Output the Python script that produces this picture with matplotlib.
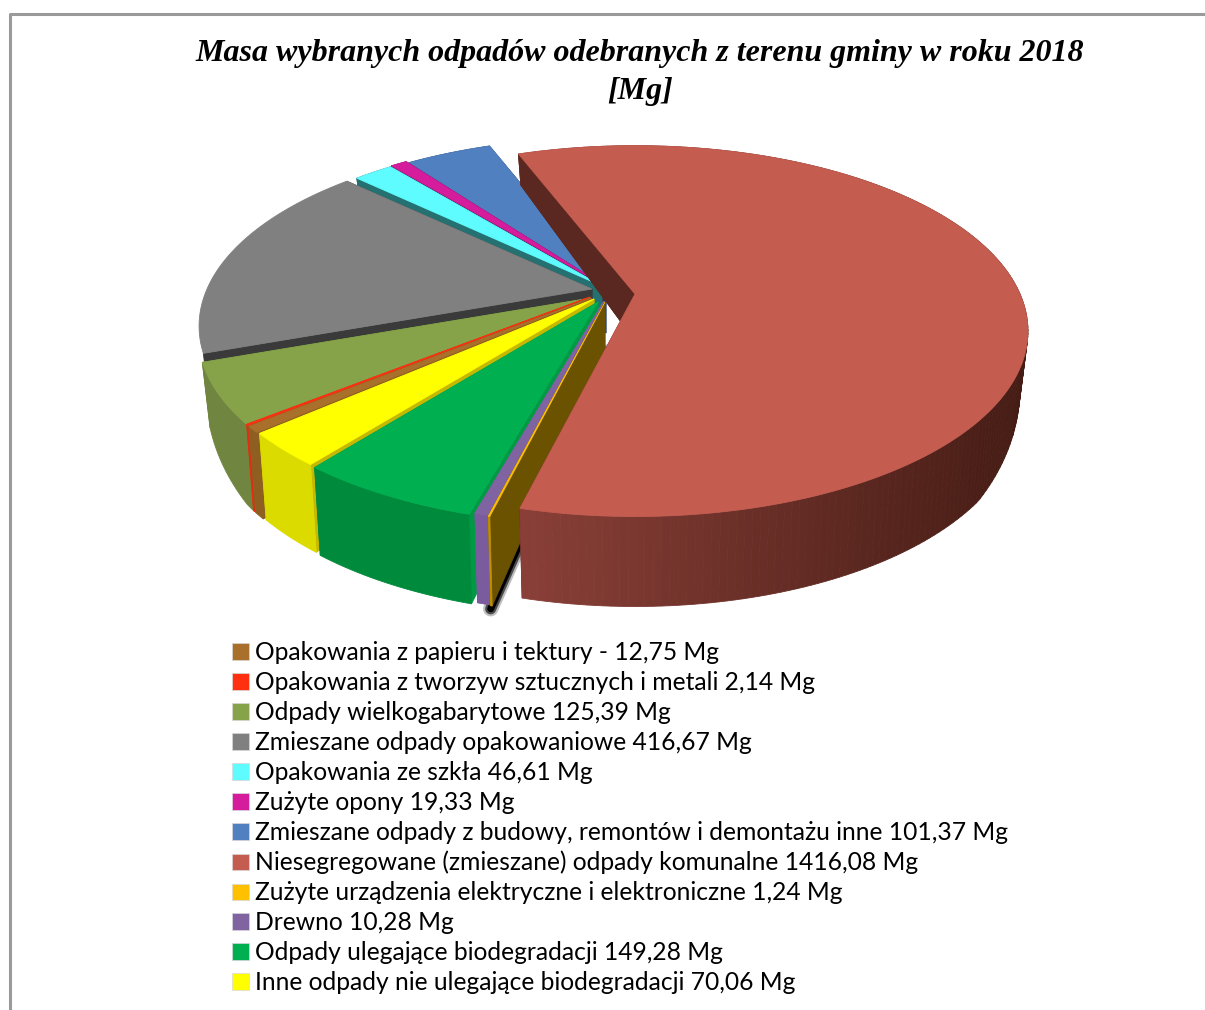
import numpy as np
import matplotlib
matplotlib.use("Agg")
import matplotlib.pyplot as plt
from matplotlib.patches import Polygon, Patch
from matplotlib.lines import Line2D

# dane z legendy, kolejnosc zgodnie z ruchem wskazowek zegara
names = ["Opakowania z papieru i tektury -", "Opakowania z tworzyw sztucznych i metali",
         "Odpady wielkogabarytowe", "Zmieszane odpady opakowaniowe", "Opakowania ze szkła",
         "Zużyte opony", "Zmieszane odpady z budowy, remontów i demontażu inne",
         "Niesegregowane (zmieszane) odpady komunalne",
         "Zużyte urządzenia elektryczne i elektroniczne", "Drewno",
         "Odpady ulegające biodegradacji", "Inne odpady nie ulegające biodegradacji"]
values = [12.75, 2.14, 125.39, 416.67, 46.61, 19.33, 101.37, 1416.08, 1.24, 10.28, 149.28, 70.06]
value_labels = ["12,75", "2,14", "125,39", "416,67", "46,61", "19,33", "101,37", "1416,08",
                "1,24", "10,28", "149,28", "70,06"]

top_colors = ["#a8702a", "#ff3010", "#86a34a", "#808080", "#5ffcff", "#d41c9c",
              "#5080c0", "#c45c50", "#ffc000", "#8064a2", "#00b050", "#ffff00"]
rim_colors = ["#8f5f22", "#e03010", "#70853f", "#555555", "#257070", "#701050",
              "#24406e", "#8a4038", "#c09000", "#7a5c9e", "#008a3c", "#dbdb00"]
cut_colors = ["#8f5f22", "#c83c10", "#5f7a30", "#3a3a3a", "#257070", "#501048",
              "#24406e", "#5a2820", "#6b5200", "#7a5c9e", "#009a45", "#c4b800"]
# wysuniecie wycinkow w pikselach
explode = [(-9, -2), (-10, -3), (-9, -2), (-8, -11), (2, -14), (3, -15),
           (6, -14), (35, -6), (5, 2), (4, 1), (-2, 2), (-6, -1)]
draw_order = [6, 5, 4, 3, 2, 1, 0, 11, 10, 9, 8, 7]

W, H = 1205, 1010
CX, CY = 600, 300
A, B = 385, 178
K = 0.2
START = 221.0


def project(u, v, off):
    s = 1 / (1 + K * v)
    x = CX + off[0] + A * u * s
    y = CY + off[1] - B * v * s
    # grubosc w pikselach zalezy od glebokosci
    drop = np.interp(v, [-1, -0.6, -0.2, 0, 1], [90, 86, 55, 47, 30])
    xb = CX + off[0] + A * u * s * 0.98
    return x, y, xb, y + drop


def rim(a0, a1, off):
    t = np.radians(np.linspace(a0, a1, max(int(abs(a1 - a0)), 4)))
    return project(np.cos(t), np.sin(t), off)


fig = plt.figure(figsize=(W / 100, H / 100), dpi=100)
ax = fig.add_axes([0, 0, 1, 1])
ax.set_xlim(0, W)
ax.set_ylim(H, 0)
ax.axis("off")

# ramka
ax.add_line(Line2D([10, 10, W], [H, 14, 14], color="#9a9a9a", lw=2.2))

deg = np.array(values) / sum(values) * 360
ends = START - np.cumsum(deg)
starts = ends + deg


def quad(xs, ys, color):
    ax.add_patch(Polygon(np.column_stack([xs, ys]), closed=True, facecolor=color,
                         edgecolor=color, lw=0.6))


for i in draw_order:
    off = explode[i]
    xa, ya, xab, ab = project(0, 0, off)
    xr, yr, xb, br = rim(starts[i], ends[i], off)
    if i == 8:
        # cien pod brazowa sciana
        for lw, al in [(11, 0.25), (8, 0.6), (5, 1)]:
            ax.add_line(Line2D([xb[-1], xab], [br[-1] + 3, ab + 3], color="black", lw=lw,
                               alpha=al, solid_capstyle="round", zorder=0.5))
    # sciany ciecia
    quad([xa, xr[0], xb[0], xab], [ya, yr[0], br[0], ab], cut_colors[i])
    quad([xa, xr[-1], xb[-1], xab], [ya, yr[-1], br[-1], ab], cut_colors[i])
    # sciana zewnetrzna
    if i == 7:
        # cieniowanie duzego wycinka
        for j in range(len(xr) - 1):
            f = np.clip((xr[j] - 520) / 510, 0, 1)
            color = np.array([0.54, 0.25, 0.22]) * (1 - f) + np.array([0.27, 0.11, 0.08]) * f
            quad([xr[j], xr[j + 1], xb[j + 1], xb[j]], [yr[j], yr[j + 1], br[j + 1], br[j]], color)
        quad([xa, xr[0], xb[0], xab], [ya, yr[0], br[0], ab], cut_colors[i])
    elif i != 3:
        quad(np.r_[xr, xb[::-1]], np.r_[yr, br[::-1]], rim_colors[i])
    quad(np.r_[xa, xr], np.r_[ya, yr], top_colors[i])

ax.text(640, 54, "Masa wybranych odpadów odebranych z terenu gminy w roku 2018", ha="center",
        va="center", family="Liberation Serif", weight="bold", style="italic", fontsize=23)
ax.text(640, 91, "[Mg]", ha="center", va="center", family="Liberation Serif", weight="bold",
        style="italic", fontsize=23)

handles = [Patch(facecolor=c, edgecolor="#d8d8d8", lw=0.5) for c in top_colors]
labels = [n + " " + v + " Mg" for n, v in zip(names, value_labels)]
fig.legend(handles, labels, loc="upper left", bbox_to_anchor=(225 / W, 1 - 634 / H), frameon=False,
           prop={"family": "Lato", "size": 17.7}, handlelength=0.66, handleheight=0.66,
           handletextpad=0.26, labelspacing=0.282, borderpad=0.3, borderaxespad=0, labelcolor="black")

fig.savefig("out.png", dpi=100)
